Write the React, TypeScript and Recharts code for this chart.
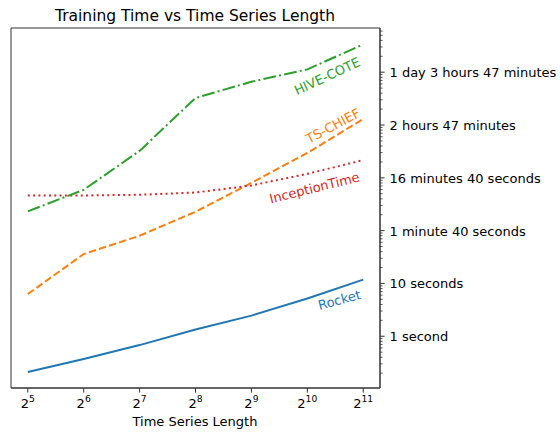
import { Line, LineChart, ReferenceArea, XAxis, YAxis } from 'recharts'

// series lengths (2^5 .. 2^11) and training times in seconds
const lengths = [32, 64, 128, 256, 512, 1024, 2048]
const rocket = [0.21, 0.37, 0.68, 1.34, 2.46, 5.2, 11.8]
const tsChief = [6.3, 36, 80, 228, 800, 2950, 13000]
const inceptionTime = [463, 463, 477, 527, 716, 1190, 2160]
const hiveCote = [231, 593, 3240, 32500, 66000, 113000, 337000]

const timeTicks = [1, 10, 100, 1000, 10000, 100000]
const timeTickLabels = [
  '1 second',
  '10 seconds',
  '1 minute 40 seconds',
  '16 minutes 40 seconds',
  '2 hours 47 minutes',
  '1 day 3 hours 47 minutes',
]

const X_DOMAIN: [number, number] = [25.99, 2521]
const Y_DOMAIN: [number, number] = [0.1047, 687000]

const FONT = 'DejaVu Sans, Verdana, sans-serif'
const SPINE = '#333'

// log minor ticks 2..9 x 10^k inside the domain
const minorTicks: number[] = []
for (let k = -1; k <= 5; k++) {
  for (let m = 2; m <= 9; m++) {
    const v = m * Math.pow(10, k)
    if (v > Y_DOMAIN[0] && v < Y_DOMAIN[1]) minorTicks.push(v)
  }
}

const rows = lengths.map((len, i) => ({
  len,
  rocket: rocket[i],
  tsChief: tsChief[i],
  inceptionTime: inceptionTime[i],
  hiveCote: hiveCote[i],
}))

function PowerTick({ x, y, payload }: any) {
  const exp = Math.round(Math.log2(payload.value))
  return (
    <g>
      <line x1={x} x2={x} y1={y} y2={y + 4.6} stroke={SPINE} strokeWidth={1} />
      <text x={x} y={y + 20} textAnchor="middle" fontSize={13} fontFamily={FONT} fill="#000">
        <tspan>2</tspan>
        <tspan dy={-6} fontSize={9.2}>{exp}</tspan>
      </text>
    </g>
  )
}

function TimeTick({ x, y, payload }: any) {
  const idx = timeTicks.indexOf(payload.value)
  if (idx < 0) {
    return <line x1={x} x2={x + 2.6} y1={y} y2={y} stroke={SPINE} strokeWidth={0.8} />
  }
  return (
    <g>
      <line x1={x} x2={x + 4.6} y1={y} y2={y} stroke={SPINE} strokeWidth={1} />
      <text x={x + 9.5} y={y + 5} fontSize={13} fontFamily={FONT} fill="#000">
        {timeTickLabels[idx]}
      </text>
    </g>
  )
}

// rotated name written next to the last point of a series
function endLabel(name: string, color: string, dx: number, dy: number, angle: number) {
  return (props: any) => {
    if (props.index !== lengths.length - 1) return <g />
    const tx = props.x + dx
    const ty = props.y + dy
    return (
      <text
        x={tx}
        y={ty}
        textAnchor="end"
        transform={`rotate(${angle}, ${tx}, ${ty})`}
        fontSize={13}
        fontFamily={FONT}
        fill={color}
      >
        {name}
      </text>
    )
  }
}

export default function App() {
  return (
    <div style={{ position: 'absolute', left: 0, top: 0, width: 560, height: 433, background: '#fff' }}>
      <LineChart width={560} height={433} data={rows} margin={{ top: 28, right: 0, bottom: 0, left: 11 }}>
        <XAxis
          dataKey="len"
          type="number"
          scale="log"
          domain={X_DOMAIN}
          allowDataOverflow
          ticks={lengths}
          interval={0}
          tick={<PowerTick />}
          tickSize={0}
          tickMargin={0}
          height={45}
          axisLine={{ stroke: SPINE, strokeWidth: 1 }}
        />
        <YAxis
          orientation="right"
          type="number"
          scale="log"
          domain={Y_DOMAIN}
          allowDataOverflow
          ticks={[...timeTicks, ...minorTicks]}
          interval={0}
          tick={<TimeTick />}
          tickSize={0}
          tickMargin={0}
          width={180}
          axisLine={{ stroke: SPINE, strokeWidth: 1 }}
        />
        {/* axes box */}
        <ReferenceArea
          x1={X_DOMAIN[0]}
          x2={X_DOMAIN[1]}
          y1={Y_DOMAIN[0]}
          y2={Y_DOMAIN[1]}
          fill="none"
          fillOpacity={0}
          stroke={SPINE}
          strokeWidth={1}
          strokeOpacity={1}
        />
        <Line
          dataKey="rocket"
          stroke="#1f77b4"
          strokeWidth={2}
          dot={false}
          isAnimationActive={false}
          label={endLabel('Rocket', '#1f77b4', -1.5, 19, -15)}
        />
        <Line
          dataKey="tsChief"
          stroke="#ff7f0e"
          strokeWidth={2}
          strokeDasharray="7.4 3.2"
          dot={false}
          isAnimationActive={false}
          label={endLabel('TS-CHIEF', '#ff7f0e', -2, -3, -28)}
        />
        <Line
          dataKey="inceptionTime"
          stroke="#d62728"
          strokeWidth={2}
          strokeDasharray="2 3.3"
          dot={false}
          isAnimationActive={false}
          label={endLabel('InceptionTime', '#d62728', -3, 21, -14)}
        />
        <Line
          dataKey="hiveCote"
          stroke="#2ca02c"
          strokeWidth={2}
          strokeDasharray="12.8 3.2 2 3.2"
          dot={false}
          isAnimationActive={false}
          label={endLabel('HIVE-COTE', '#2ca02c', -2, 21, -25)}
        />
      </LineChart>
      <svg width={560} height={433} style={{ position: 'absolute', left: 0, top: 0, pointerEvents: 'none' }}>
        <text x={195} y={20.5} textAnchor="middle" fontSize={15.5} fontFamily={FONT} fill="#000">
          Training Time vs Time Series Length
        </text>
        <text x={195} y={426} textAnchor="middle" fontSize={13} fontFamily={FONT} fill="#000">
          Time Series Length
        </text>
      </svg>
    </div>
  )
}
